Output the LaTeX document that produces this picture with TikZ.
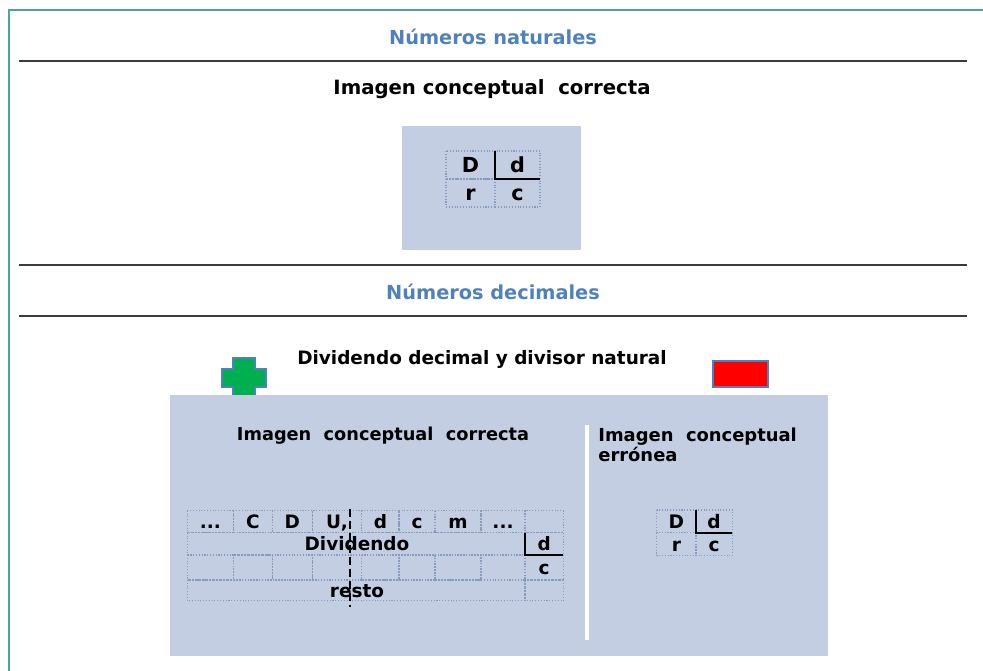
\documentclass[tikz,border=0pt]{standalone}
\usepackage{fontspec}
\setmainfont{DejaVu Sans}
\usetikzlibrary{calc}
\definecolor{panel}{RGB}{196, 206, 226}
\definecolor{heading}{RGB}{79, 129, 189}
\definecolor{frame}{RGB}{75, 165, 155}
\definecolor{rule}{RGB}{60, 60, 60}
\definecolor{cellline}{RGB}{135, 155, 190}
\definecolor{plusgreen}{RGB}{0, 176, 80}
\newcommand{\placedots}{...}
\newcommand{\drawdivision}[7]{
  \pgfmathsetmacro{\xa}{#2}
  \pgfmathsetmacro{\xb}{#2 + #4}
  \pgfmathsetmacro{\xc}{#2 + #4 + #5}
  \pgfmathsetmacro{\ya}{#3}
  \pgfmathsetmacro{\yb}{#3 + #6}
  \pgfmathsetmacro{\yc}{#3 + 2 * #6}
  \pgfmathsetmacro{\lift}{0.644 * #7}

  \draw[cell] (\xa, \ya) rectangle (\xb, \yb);
  \draw[cell] (\xb, \ya) rectangle (\xc, \yb);
  \draw[cell] (\xa, \yb) rectangle (\xb, \yc);
  \draw[cell] (\xb, \yb) rectangle (\xc, \yc);
  \draw[bar] (\xb, \ya) -- (\xb, \yb) -- (\xc, \yb);

  \node[digit, font=\bfseries\fontsize{#7}{#7}\selectfont] (#1-D)
    at ({(\xa + \xb) / 2}, {(\ya + \yb) / 2 + \lift}) {D};
  \node[digit, font=\bfseries\fontsize{#7}{#7}\selectfont] (#1-d)
    at ({(\xb + \xc) / 2}, {(\ya + \yb) / 2 + \lift}) {d};
  \node[digit, font=\bfseries\fontsize{#7}{#7}\selectfont] (#1-r)
    at ({(\xa + \xb) / 2}, {(\yb + \yc) / 2 + \lift}) {r};
  \node[digit, font=\bfseries\fontsize{#7}{#7}\selectfont] (#1-c)
    at ({(\xb + \xc) / 2}, {(\yb + \yc) / 2 + \lift}) {c};
}

\begin{document}
\begin{tikzpicture}[x=0.02cm, y=-0.02cm,
  cell/.style={cellline, densely dotted, line width=0.6pt},
  bar/.style={black, line width=0.9pt},
  digit/.style={anchor=base, inner sep=0pt, text=black},
  sectiontitle/.style={anchor=base, inner sep=0pt, text=heading, font=\bfseries\fontsize{11}{13}\selectfont},
  subtitle/.style={anchor=base, inner sep=0pt, text=black, font=\bfseries\fontsize{11.2}{13}\selectfont},
  divider/.style={rule, line width=1.1pt}]

  \useasboundingbox (0, 0) rectangle (983, 671);

  % outer frame
  \draw[frame, line width=1.2pt] (983, 10) -- (9, 10) -- (9, 671);

  % natural numbers
  \node[sectiontitle] (natTitle) at (493, 45) {Números naturales};
  \draw[divider] (19, 61) -- (967, 61);
  \node[subtitle] (natImage) at (492, 95) {Imagen conceptual\ \ correcta};
  \fill[panel] (402, 126) rectangle (581, 250);
  \drawdivision{natDiv}{446}{151}{49}{45}{28}{11.8}

  % decimal numbers
  \draw[divider] (19, 265) -- (967, 265);
  \node[sectiontitle] (decTitle) at (493, 300) {Números decimales};
  \draw[divider] (19, 316) -- (967, 316);
  \node[subtitle, font=\bfseries\fontsize{10.5}{12}\selectfont] (decCase) at (482, 365) {Dividendo decimal y divisor natural};

  \filldraw[fill=plusgreen, draw=heading, line width=1.2pt]
       (233, 358) -- (255, 358) -- (255, 369) -- (266, 369) -- (266, 387) -- (255, 387)
    -- (255, 397) -- (233, 397) -- (233, 387) -- (222, 387) -- (222, 369) -- (233, 369) -- cycle;
  \filldraw[fill=red, draw=heading, line width=1.2pt] (713, 361) rectangle (768, 387);

  \fill[panel] (170, 395) rectangle (828, 656);
  \draw[white, line width=2.2pt] (587, 425) -- (587, 640);

  \node[subtitle, font=\bfseries\fontsize{10.1}{11}\selectfont] (goodImage) at (383, 441) {Imagen\ \ conceptual\ \ correcta};
  \node[anchor=north west, inner sep=0pt, align=left, font=\bfseries\fontsize{10.2}{11}\selectfont] (badImage)
    at (598, 428) {Imagen\ \ conceptual\\errónea};

  % decimal division grid
  \foreach \xa/\xb/\lab [count=\n] in {187.3/233.3/\placedots, 233.3/272.3/C, 272.3/312.3/D, 312.3/361.7/{U,},
                                       361.7/399/d, 399/435/c, 435/481/m, 481/525/\placedots, 525/563.3/{}} {
    \draw[cell] (\xa, 510.7) rectangle (\xb, 532.7);
    \draw[cell] (\xa, 555) rectangle (\xb, 580);
    \node[digit, font=\bfseries\fontsize{10.5}{11}\selectfont] (place-\n) at ({(\xa + \xb) / 2}, 528.5) {\lab};
  }
  \draw[cell] (187.3, 532.7) rectangle (525, 555);
  \draw[cell] (525, 532.7) rectangle (563.3, 555);
  \draw[cell] (187.3, 580) rectangle (525, 600.7);
  \draw[cell] (525, 580) rectangle (563.3, 600.7);
  \draw[bar] (525, 532.7) -- (525, 555) -- (563.3, 555);

  \node[digit, font=\bfseries\fontsize{10.5}{11}\selectfont] (dividend) at (357, 550.6) {Dividendo};
  \node[digit, font=\bfseries\fontsize{10.5}{11}\selectfont] (divisor) at (544.2, 550.6) {d};
  \node[digit, font=\bfseries\fontsize{10.5}{11}\selectfont] (quotient) at (544.2, 574.3) {c};
  \node[digit, font=\bfseries\fontsize{10.5}{11}\selectfont] (remainder) at (357, 597.1) {resto};

  \draw[black, line width=1.7pt, dash pattern=on 4.5pt off 2.3pt] (350, 509) -- (350, 607);

  \drawdivision{badDiv}{656.7}{510}{39.3}{36.3}{22.8}{10.6}

\end{tikzpicture}
\end{document}
